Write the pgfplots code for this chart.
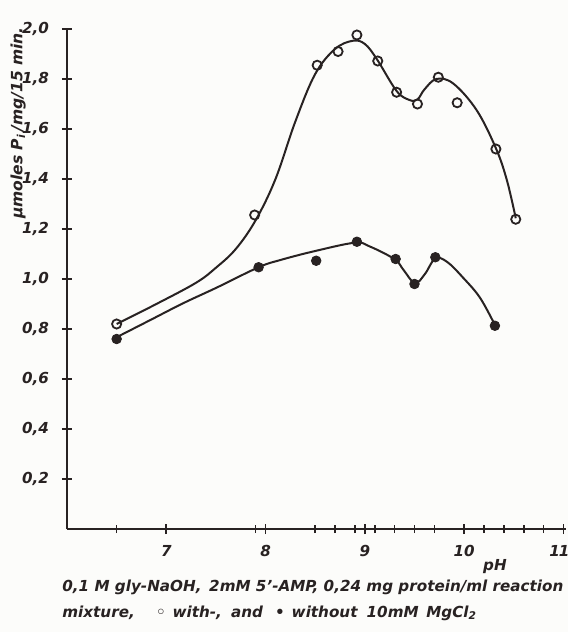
\documentclass[border=0pt]{standalone}
\usepackage{fontspec}
\setmainfont{DejaVu Sans}
\usepackage{pgfplots}
\pgfplotsset{compat=1.18}
\definecolor{paper}{RGB}{252,252,250}
\definecolor{ink}{RGB}{40,34,34}
\begin{document}
\begin{tikzpicture}
\useasboundingbox[fill=paper] (-33.5bp,-51.5bp) rectangle (250.5bp,264.5bp);
\begin{axis}[at={(0,0)}, anchor=south west, scale only axis,
  width=249.7bp, height=250bp,
  xmin=6, xmax=11.03, ymin=0, ymax=2.0,
  axis x line=bottom, axis y line=left,
  axis line style={-, line width=1bp, ink},
  xtick={7,8,9,10,11}, xticklabels={7,8,9,10,{\makebox[0pt]{\hspace*{-4bp}1\kern-0.6bp1}}},
  minor xtick={6.5,7.9,8.5,8.7,8.9,9.1,9.3,9.5,9.7,10.2,10.4,10.6,10.8},
  ytick={0.2,0.4,0.6,0.8,1.0,1.2,1.4,1.6,1.8,2.0},
  tick align=center,
  major tick length=5bp, minor tick length=4bp,
  tick style={line width=0.8bp, ink},
  /pgf/number format/.cd, use comma, fixed, fixed zerofill, precision=1, assume math mode=true,
  /pgfplots/.cd,
  ticklabel style={font=\bfseries\itshape\fontsize{7.6}{9}\selectfont, text=ink},
  yticklabel style={anchor=east, xshift=-3bp},
  xticklabel style={anchor=north, yshift=-2bp},
  ylabel={µmoles P\textsubscript{i}\,/mg/15 min.},
  ylabel style={at={(axis description cs:-0.098,0.812)}, anchor=center, font=\bfseries\itshape\fontsize{7.8}{9}\selectfont, text=ink},
  clip=false,
]
% smooth curve, with MgCl2
\addplot[smooth, tension=0.6, line width=1bp, ink] coordinates {
(6.5,0.82) (6.9,0.9) (7.3,0.985) (7.5,1.045) (7.7,1.12) (7.9,1.235) (8.1,1.40)
(8.3,1.63) (8.5,1.82) (8.70,1.92) (8.88,1.953) (9.0,1.94) (9.12,1.88)
(9.32,1.752) (9.45,1.716) (9.53,1.718) (9.60,1.758) (9.72,1.80) (9.89,1.782) (10.125,1.676)
(10.32,1.523) (10.43,1.396) (10.52,1.243)};
% smooth curve, without MgCl2
\addplot[smooth, tension=0.6, line width=1bp, ink] coordinates {
(6.48,0.763) (6.84,0.836) (7.17,0.903) (7.51,0.966) (7.93,1.047) (8.15,1.076)
(8.5,1.112) (8.9,1.145) (9.05,1.13) (9.30,1.079) (9.39,1.036) (9.505,0.983) (9.605,1.02)
(9.71,1.082) (9.83,1.068) (9.99,1.005) (10.16,0.925) (10.31,0.816)};
% measured points, with MgCl2 (open)
\addplot[only marks, mark=o, mark size=2.3bp, line width=0.9bp, ink, mark options={fill=paper}] coordinates {
(6.5,0.82) (7.89,1.256) (8.52,1.855) (8.73,1.91) (8.92,1.976) (9.13,1.872) (9.32,1.747)
(9.53,1.70) (9.74,1.807) (9.93,1.705) (10.32,1.52) (10.52,1.239)};
% measured points, without MgCl2 (filled)
\addplot[only marks, mark=*, mark size=2.4bp, ink] coordinates {
(6.5,0.76) (7.93,1.047) (8.51,1.073) (8.92,1.149) (9.31,1.08) (9.50,0.98) (9.71,1.087) (10.31,0.813)};
\end{axis}
\node[font=\bfseries\itshape\fontsize{7.6}{9}\selectfont, text=ink] at (214bp,-19bp) {pH};
\node[anchor=west, font=\bfseries\itshape\fontsize{7.62}{9}\selectfont, text=ink, inner sep=0pt] at (-2.5bp,-29bp) {0,1 M gly-NaOH,\enspace 2mM 5'-AMP, 0,24 mg protein/ml reaction};
\node[anchor=west, font=\bfseries\itshape\fontsize{7.62}{9}\selectfont, text=ink, inner sep=0pt] at (-2.5bp,-42bp) {mixture,\hspace{1.4em}◦\hspace{0.45em}with-,\hspace{0.6em}and\hspace{0.8em}•\hspace{0.45em}without\hspace{0.6em}10mM\hspace{0.5em}MgCl\textsubscript{2}};
\end{tikzpicture}
\end{document}
